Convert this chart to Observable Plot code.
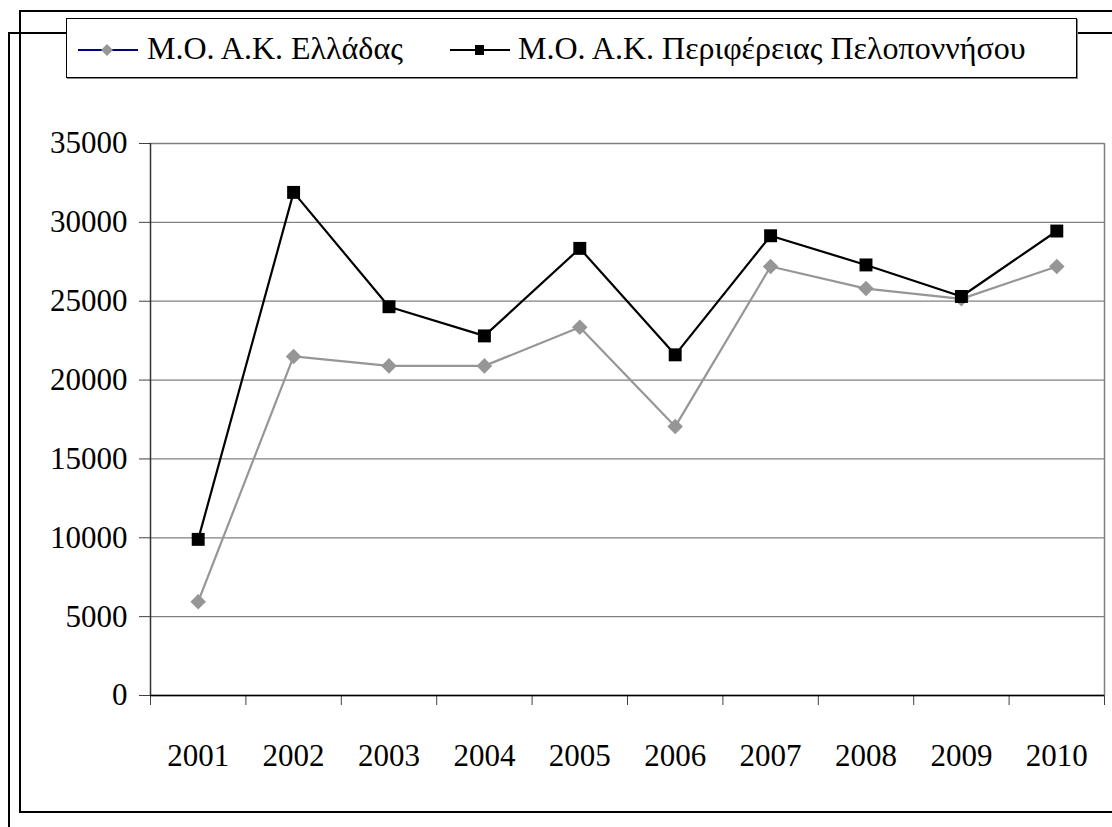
<!DOCTYPE html>
<html><head><meta charset="utf-8">
<script src="https://cdn.jsdelivr.net/npm/d3@7"></script>
<script src="https://cdn.jsdelivr.net/npm/@observablehq/plot@0.6"></script>
<style>
body{margin:0;background:#fff;width:1112px;height:827px;overflow:hidden;position:relative;font-family:serif;}
#outer{position:absolute;left:19px;top:10px;width:1200px;height:799px;border:2px solid #000;}
#outer2{position:absolute;left:8px;top:32px;width:1200px;height:900px;border-left:2px solid #000;border-top:2px solid #000;}
#chart{position:absolute;left:0;top:0;}
#legend{position:absolute;left:66px;top:18px;width:1009px;height:58px;border:1px solid #000;background:#fff;box-shadow:1px 1px 0 #888;}
.item{position:absolute;top:0;height:58px;}
.lt{position:absolute;top:9px;font-size:32px;line-height:40px;color:#000;white-space:nowrap;font-family:serif;}
</style>
</head><body>
<div id="outer2"></div>
<div id="outer"></div>
<div id="chart"></div>
<div id="legend">
  <svg class="item" style="left:11px" width="60" height="58"><line x1="0" x2="60" y1="31" y2="31" stroke="#000080" stroke-width="2"/><path d="M29,25 L35,31 L29,37 L23,31Z" fill="#969696"/></svg>
  <div class="lt" style="left:80px">Μ.Ο. Α.Κ. Ελλάδας</div>
  <svg class="item" style="left:383px" width="60" height="58"><line x1="0" x2="60" y1="31" y2="31" stroke="#000" stroke-width="2"/><rect x="25" y="26" width="9" height="10" fill="#000"/></svg>
  <div class="lt" style="left:451px">Μ.Ο. Α.Κ. Περιφέρειας Πελοποννήσου</div>
</div>
<script>
const years = [2001, 2002, 2003, 2004, 2005, 2006, 2007, 2008, 2009, 2010];
const greece = [5950, 21500, 20900, 20900, 23350, 17050, 27200, 25800, 25150, 27200];
const pelop = [9900, 31900, 24650, 22800, 28350, 21600, 29150, 27300, 25300, 29450];
const yTicks = [0, 5000, 10000, 15000, 20000, 25000, 30000, 35000];

const gData = years.map((y, i) => ({year: y, value: greece[i]}));
const pData = years.map((y, i) => ({year: y, value: pelop[i]}));
const bounds = [years[0] - 0.5, ...years.map(y => y + 0.5)];

const chart = Plot.plot({
  width: 1112, height: 827,
  marginLeft: 150, marginRight: 8, marginTop: 143, marginBottom: 132,
  style: {fontFamily: "serif", fontSize: "31px", background: "transparent", color: "#000", overflow: "visible"},
  x: {domain: [bounds[0], bounds[bounds.length - 1]], label: null},
  y: {domain: [0, 35000], label: null},
  marks: [
    Plot.gridY({ticks: yTicks, stroke: "#808080", strokeOpacity: 1, strokeWidth: 1.3}),
    Plot.ruleX([bounds[bounds.length - 1]], {stroke: "#808080", strokeWidth: 1.5}),
    Plot.axisY({ticks: yTicks, tickSize: 11, tickPadding: 12, tickFormat: d => String(d), stroke: "#404040", label: null}),
    Plot.axisX({ticks: years, tickSize: 0, tickPadding: 48, tickFormat: d => String(d), label: null}),
    Plot.axisX({ticks: bounds, tickSize: 10, tickFormat: () => "", stroke: "#404040", label: null}),
    Plot.ruleX([bounds[0]], {stroke: "#333", strokeWidth: 1.5}),
    Plot.ruleY([0], {stroke: "#000", strokeWidth: 1.5}),
    Plot.line(gData, {x: "year", y: "value", stroke: "#969696", strokeWidth: 2.2}),
    Plot.dot(gData, {x: "year", y: "value", symbol: "diamond2", r: 7, fill: "#969696", stroke: "none"}),
    Plot.line(pData, {x: "year", y: "value", stroke: "#000", strokeWidth: 2.2}),
    Plot.dot(pData, {x: "year", y: "value", symbol: "square", r: 7.3, fill: "#000", stroke: "none"})
  ]
});
document.getElementById("chart").appendChild(chart);
</script>
</body></html>
